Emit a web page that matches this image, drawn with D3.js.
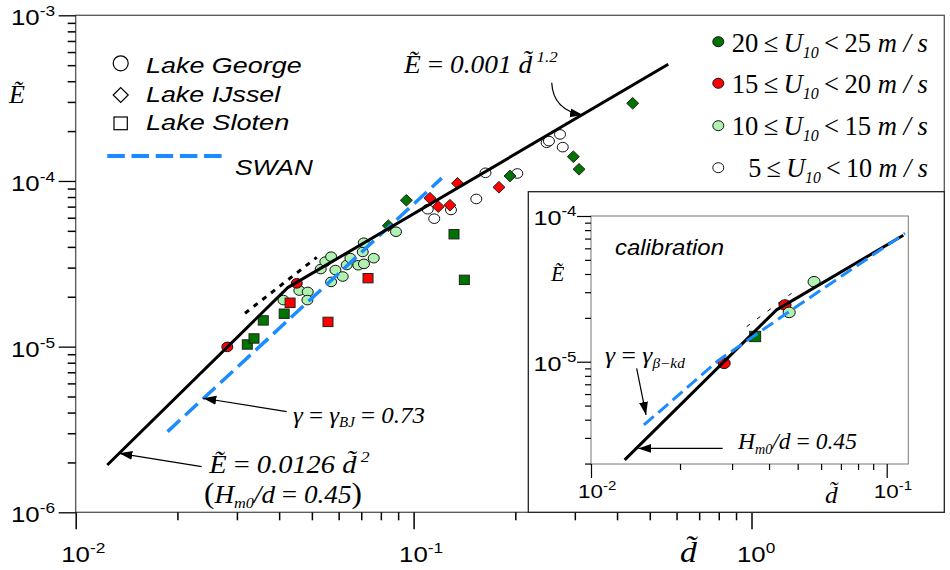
<!DOCTYPE html>
<html><head><meta charset="utf-8">
<script src="https://cdn.jsdelivr.net/npm/d3@7"></script>
<style>body{margin:0;background:#fff}svg{display:block}text{white-space:pre}</style>
</head><body>
<svg id="chart" width="950" height="570"></svg>
<script>
// ---------------- DATA ----------------
// Lake George (circles)
const georgeD = [0.0412,0.0459,0.0486,0.0485,0.0531,0.0548,0.0570,0.0587,0.0570,0.0617,0.0634,0.0650,0.0686,0.0713,0.0707,0.0712,0.0762,0.0887,
                 0.1101,0.1151,0.1290,0.1533,0.1632,0.2027,0.2476,0.2515,0.2712,0.2763,
                 0.0281,0.0451];
const georgeE = [1.91e-5,2.18e-5,2.14e-5,1.91e-5,2.94e-5,3.26e-5,3.49e-5,2.90e-5,2.46e-5,2.65e-5,3.11e-5,3.42e-5,3.10e-5,3.16e-5,3.73e-5,4.24e-5,3.42e-5,4.94e-5,
                 6.75e-5,5.92e-5,6.68e-5,7.79e-5,1.12e-4,1.11e-4,1.70e-4,1.74e-4,1.91e-4,1.60e-4,
                 9.96e-6,2.41e-5];
const georgeU = ["10-15","10-15","10-15","10-15","10-15","10-15","10-15","10-15","10-15","10-15","10-15","10-15","10-15","10-15","10-15","10-15","10-15","10-15",
                 "5-10","5-10","5-10","5-10","5-10","5-10","5-10","5-10","5-10","5-10",
                 "15-20","15-20"];
// Lake IJssel (diamonds)
const ijsselD = [0.0952,0.0842,0.1929,0.2970,0.3087,0.4450, 0.1118,0.1183,0.1281,0.1349,0.1789];
const ijsselE = [7.65e-5,5.37e-5,1.072e-4,1.401e-4,1.176e-4,2.944e-4, 7.87e-5,7.00e-5,7.14e-5,9.68e-5,9.16e-5];
const ijsselU = ["20-25","20-25","20-25","20-25","20-25","20-25","15-20","15-20","15-20","15-20","15-20"];
// Lake Sloten (squares)
const slotenD = [0.0322,0.0337,0.0359,0.0414,0.1317,0.1413, 0.0431,0.0558,0.0733];
const slotenE = [1.03e-5,1.12e-5,1.44e-5,1.58e-5,4.77e-5,2.53e-5, 1.84e-5,1.41e-5,2.59e-5];
const slotenU = ["20-25","20-25","20-25","20-25","20-25","20-25","15-20","15-20","15-20"];

// Lines (main)
const fitD = [0.0124, 0.0424, 0.567];
const fitE = [1.93e-6, 2.27e-5, 5.06e-4];
const dottedD = [0.0317, 0.0517];
const dottedE = [1.59e-5, 3.46e-5];
const swanD = [0.0187, 0.1211];
const swanE = [3.07e-6, 1.04e-4];

// Inset (calibration)
const calD = [0.0282, 0.0359, 0.0453, 0.0468, 0.0568];
const calE = [9.75e-6, 1.49e-5, 2.45e-5, 2.18e-5, 3.54e-5];
const calShape = ["circle","square","circle","circle","circle"];
const calU = ["15-20","20-25","15-20","10-15","10-15"];
const calFitD = [0.0130, 0.0424, 0.1138];
const calFitE = [2.12e-6, 2.27e-5, 7.37e-5];
const calSwanD = [0.0151, 0.0269, 0.0459, 0.1153];
const calSwanE = [3.68e-6, 1.016e-5, 2.15e-5, 7.61e-5];
const calDottedD = [0.0336, 0.0477];
const calDottedE = [1.74e-5, 2.95e-5];

// Ticks
const xMajor = [0.01, 0.1, 1];
const xMajorExp = ["-2", "-1", "0"];
const xMinor = [0.02,0.03,0.04,0.05,0.06,0.07,0.08,0.09,0.2,0.3,0.4,0.5,0.6,0.7,0.8,0.9];
const yMajor = [1e-6, 1e-5, 1e-4, 1e-3];
const yMajorExp = ["-6", "-5", "-4", "-3"];
const yMinor = [2,3,4,5,6,7,8,9].flatMap(m => [m*1e-6, m*1e-5, m*1e-4]);
const ixMajor = [0.01, 0.1];
const ixMajorExp = ["-2", "-1"];
const ixMinor = [0.02,0.03,0.04,0.05,0.06,0.07,0.08,0.09];
const iyMajor = [1e-5, 1e-4];
const iyMajorExp = ["-5", "-4"];
const iyMinor = [2,3,4,5,6,7,8,9].flatMap(m => [m*1e-6, m*1e-5]);

// Legends
const lakeNames = ["Lake George", "Lake IJssel", "Lake Sloten"];
const lakeShapes = ["circle", "diamond", "square"];
const windClasses = ["20-25", "15-20", "10-15", "5-10"];
const windLo = ["20", "15", "10", "5"];
const windHi = ["25", "20", "15", "10"];

// ---------------- STYLE ----------------
const SANS = "'Liberation Sans', Arial, sans-serif";
const SERIF = "'Liberation Serif', 'Times New Roman', serif";
const windColor = {"20-25":"#007400","15-20":"#ff0000","10-15":"#b0f0b0","5-10":"#ffffff"};
const BLUE = "#1a8cff";

const svg = d3.select("#chart");
const defs = svg.append("defs");
defs.append("marker").attr("id","arr").attr("markerUnits","userSpaceOnUse")
  .attr("markerWidth",14).attr("markerHeight",10).attr("refX",13).attr("refY",5).attr("orient","auto")
  .append("path").attr("d","M0,0.5 L13,5 L0,9.5 Z").attr("fill","#000");

function rich(parent, parts, o) {
  const g = parent.append("g");
  const t = g.append("text").attr("font-family", o.family).attr("font-size", o.size).attr("fill", "#000");
  let cur = 0;
  for (const p of parts) {
    const s = t.append("tspan").text(p.t);
    const dy = p.dy || 0;
    if (dy !== cur) { s.attr("dy", dy - cur); cur = dy; }
    if (p.s) s.attr("font-size", o.size * p.s);
    s.attr("font-style", p.it ? "italic" : "normal");
  }
  const bb = t.node().getBBox();
  const sx = o.w ? o.w / bb.width : (o.sx || 1);
  let left = o.x;
  if (o.anchor === "end") left = o.x - bb.width * sx;
  else if (o.anchor === "middle") left = o.x - bb.width * sx / 2;
  g.attr("transform", `translate(${left - bb.x * sx},${o.y}) scale(${sx},1)`);
  return g;
}

function marker(sel, shape, cx, cy, size, fill) {
  if (shape === "circle") {
    sel.append("ellipse").attr("cx", cx).attr("cy", cy).attr("rx", size * 0.55).attr("ry", size * 0.48)
      .attr("fill", fill).attr("stroke", "#111").attr("stroke-width", 1);
  } else if (shape === "square") {
    sel.append("rect").attr("x", cx - size * 0.5).attr("y", cy - size * 0.47).attr("width", size).attr("height", size * 0.94)
      .attr("fill", fill).attr("stroke", "#222").attr("stroke-width", 1);
  } else {
    const h = size * 0.6, v = size * 0.58;
    sel.append("path").attr("d", `M${cx - h},${cy} L${cx},${cy - v} L${cx + h},${cy} L${cx},${cy + v} Z`)
      .attr("fill", fill).attr("stroke", "#222").attr("stroke-width", 1);
  }
}

// ---------------- MAIN PLOT ----------------
const x = d3.scaleLog().domain([0.01, 3.72]).range([75.7, 944.3]);
const y = d3.scaleLog().domain([1e-6, 1e-3]).range([512.3, 15.3]);

const main = svg.append("g");
main.append("rect").attr("x", 75.7).attr("y", 15.3).attr("width", 944.3 - 75.7).attr("height", 512.3 - 15.3)
  .attr("fill", "#fff").attr("stroke", "#555").attr("stroke-width", 1.3);

function styleAxis(g, w) {
  g.select(".domain").remove();
  g.selectAll(".tick line").attr("stroke", "#000").attr("stroke-width", w);
  g.selectAll(".tick text").remove();
}
main.append("g").attr("transform", "translate(0,512.3)")
  .call(d3.axisBottom(x).tickValues(xMajor).tickSize(17).tickFormat(""))
  .call(g => styleAxis(g, 1.5));
main.append("g").attr("transform", "translate(0,512.3)")
  .call(d3.axisBottom(x).tickValues(xMinor).tickSize(8).tickFormat(""))
  .call(g => styleAxis(g, 1.5));
main.append("g").attr("transform", "translate(75.7,0)")
  .call(d3.axisLeft(y).tickValues(yMajor).tickSize(17).tickFormat(""))
  .call(g => styleAxis(g, 1.3));
main.append("g").attr("transform", "translate(75.7,0)")
  .call(d3.axisLeft(y).tickValues(yMinor).tickSize(8).tickFormat(""))
  .call(g => styleAxis(g, 1.5));

xMajor.forEach((v, i) => {
  rich(main, [{t:"10"}, {t:xMajorExp[i], s:0.67, dy:-9}], {x: x(v) - 14.5, y: 561.7, size: 21.5, family: SANS, sx: 1.2});
});
yMajor.forEach((v, i) => {
  rich(main, [{t:"10"}, {t:yMajorExp[i], s:0.67, dy:-9}], {x: 55, y: y(v) + 10, size: 21.5, family: SANS, sx: 1.2, anchor: "end"});
});

// axis titles
rich(main, [{t:"\u1EBC", it:true}], {x: 8, y: 103, size: 26, family: SERIF, w: 17});
rich(main, [{t:"d\u0303", it:true}], {x: 680, y: 561.7, size: 30, family: SERIF, w: 18});

// data markers
const pts = main.append("g");
georgeD.forEach((d, i) => marker(pts, "circle", x(d), y(georgeE[i]), 10, windColor[georgeU[i]]));
ijsselD.forEach((d, i) => marker(pts, "diamond", x(d), y(ijsselE[i]), 10, windColor[ijsselU[i]]));
slotenD.forEach((d, i) => marker(pts, "square", x(d), y(slotenE[i]), 10, windColor[slotenU[i]]));

// lines
const line = d3.line().x(p => x(p[0])).y(p => y(p[1]));
main.append("path").attr("d", line(dottedD.map((d, i) => [d, dottedE[i]])))
  .attr("fill", "none").attr("stroke", "#000").attr("stroke-width", 3).attr("stroke-dasharray", "5,6");
main.append("path").attr("d", line(swanD.map((d, i) => [d, swanE[i]])))
  .attr("fill", "none").attr("stroke", BLUE).attr("stroke-width", 3.5).attr("stroke-dasharray", "17,7");
main.append("path").attr("d", line(fitD.map((d, i) => [d, fitE[i]])))
  .attr("fill", "none").attr("stroke", "#000").attr("stroke-width", 3).attr("stroke-linejoin", "round");

// annotations
const curveArrow = [[0.2563, 3.92e-4], [0.2585, 2.68e-4], [0.3171, 2.50e-4]];
main.append("path")
  .attr("d", `M${x(curveArrow[0][0])},${y(curveArrow[0][1])} Q${x(curveArrow[1][0])},${y(curveArrow[1][1])} ${x(curveArrow[2][0])},${y(curveArrow[2][1])}`)
  .attr("fill", "none").attr("stroke", "#000").attr("stroke-width", 1.2).attr("marker-end", "url(#arr)");
const arrowsMain = [
  [[0.04211, 4.05e-6], [0.02385, 4.88e-6]],
  [[0.0236, 1.887e-6], [0.01346, 2.27e-6]]
];
arrowsMain.forEach(a => main.append("line")
  .attr("x1", x(a[0][0])).attr("y1", y(a[0][1])).attr("x2", x(a[1][0])).attr("y2", y(a[1][1]))
  .attr("stroke", "#000").attr("stroke-width", 1.2).attr("marker-end", "url(#arr)"));

rich(main, [{t:"\u1EBC", it:true}, {t:" = "}, {t:"0.001 ", it:true}, {t:"d\u0303", it:true}, {t:" 1.2", it:true, s:0.62, dy:-11}],
  {x: 403, y: 72.7, size: 25, family: SERIF, w: 155});
rich(main, [{t:"\u03B3", it:true}, {t:" = "}, {t:"\u03B3", it:true}, {t:"BJ", it:true, s:0.6, dy:4}, {t:" = "}, {t:"0.73", it:true}],
  {x: 293, y: 423.3, size: 24, family: SERIF, w: 132});
rich(main, [{t:"\u1EBC", it:true}, {t:" = "}, {t:"0.0126 ", it:true}, {t:"d\u0303", it:true}, {t:" 2", it:true, s:0.62, dy:-11}],
  {x: 208, y: 473, size: 25, family: SERIF, w: 162});
rich(main, [{t:"(", s:1.15}, {t:"H", it:true}, {t:"m0", it:true, s:0.6, dy:5}, {t:"/d", it:true}, {t:" = "}, {t:"0.45", it:true}, {t:")", s:1.15}],
  {x: 204, y: 503, size: 25, family: SERIF, w: 158});

// lake legend
const lg = main.append("g");
const lakeY = [63.3, 95, 123.3];
const lakeTextY = [72.7, 101.7, 130];
const lakeTextW = [155.7, 135.7, 143.3];
lakeNames.forEach((n, i) => {
  if (lakeShapes[i] === "circle") lg.append("circle").attr("cx", 120.7).attr("cy", lakeY[i]).attr("r", 7.5).attr("fill", "#fff").attr("stroke", "#000").attr("stroke-width", 1.2);
  else if (lakeShapes[i] === "diamond") lg.append("path").attr("d", `M${120.7-7.5},${lakeY[i]} L120.7,${lakeY[i]-7.5} L${120.7+7.5},${lakeY[i]} L120.7,${lakeY[i]+7.5} Z`).attr("fill", "#fff").attr("stroke", "#000").attr("stroke-width", 1.2);
  else lg.append("rect").attr("x", 114).attr("y", lakeY[i] - 6.3).attr("width", 13.3).attr("height", 12.7).attr("fill", "#fff").attr("stroke", "#000").attr("stroke-width", 1.2);
  rich(lg, [{t:n, it:true}], {x: 146, y: lakeTextY[i], size: 22, family: SANS, w: lakeTextW[i]});
});
lg.append("line").attr("x1", 107.3).attr("x2", 222.7).attr("y1", 156).attr("y2", 156)
  .attr("stroke", BLUE).attr("stroke-width", 4).attr("stroke-dasharray", "17.5,6.7");
rich(lg, [{t:"SWAN", it:true}], {x: 235, y: 175, size: 22, family: SANS, w: 78});

// wind legend
const wl = main.append("g");
const windMarkY = [41.7, 83.3, 125.7, 167.7];
const windTextY = [51.7, 93.3, 135, 176.7];
windClasses.forEach((c, i) => {
  wl.append("ellipse").attr("cx", 718.3).attr("cy", windMarkY[i]).attr("rx", 5.5).attr("ry", 5)
    .attr("fill", windColor[c]).attr("stroke", "#111").attr("stroke-width", 1);
  const left = i === 3 ? 748.3 : 731.7;
  rich(wl, [{t:windLo[i] + "\u2009"}, {t:"\u2264\u2009"}, {t:"U", it:true}, {t:"10", it:true, s:0.6, dy:6}, {t:"\u2009<\u2009"}, {t:windHi[i] + " "}, {t:"m / s", it:true}],
    {x: left, y: windTextY[i], size: 27, family: SERIF, w: 928 - left});
});

// ---------------- INSET ----------------
const inset = svg.append("g");
inset.append("rect").attr("x", 528.3).attr("y", 191.7).attr("width", 944.3 - 528.3).attr("height", 512.3 - 191.7)
  .attr("fill", "#fff").attr("stroke", "#222").attr("stroke-width", 1.3);
const xi = d3.scaleLog().domain([0.01, 0.1183]).range([591, 908.3]);
const yi = d3.scaleLog().domain([1.986e-6, 1e-4]).range([464, 216]);
inset.append("rect").attr("x", 591).attr("y", 216).attr("width", 908.3 - 591).attr("height", 464 - 216)
  .attr("fill", "#fff").attr("stroke", "#777").attr("stroke-width", 1);

inset.append("g").attr("transform", "translate(0,464)")
  .call(d3.axisBottom(xi).tickValues(ixMajor).tickSize(14).tickFormat("")).call(g => styleAxis(g, 1.2));
inset.append("g").attr("transform", "translate(0,464)")
  .call(d3.axisBottom(xi).tickValues(ixMinor).tickSize(6).tickFormat("")).call(g => styleAxis(g, 1.2));
inset.append("g").attr("transform", "translate(591,0)")
  .call(d3.axisLeft(yi).tickValues(iyMajor).tickSize(14).tickFormat("")).call(g => styleAxis(g, 1.2));
inset.append("g").attr("transform", "translate(591,0)")
  .call(d3.axisLeft(yi).tickValues(iyMinor).tickSize(6).tickFormat("")).call(g => styleAxis(g, 1.2));

ixMajor.forEach((v, i) => {
  rich(inset, [{t:"10"}, {t:ixMajorExp[i], s:0.67, dy:-8}], {x: xi(v) - 13, y: 498, size: 19, family: SANS, sx: 1.18});
});
iyMajor.forEach((v, i) => {
  rich(inset, [{t:"10"}, {t:iyMajorExp[i], s:0.67, dy:-9}], {x: 576.7, y: yi(v) + 9, size: 21, family: SANS, sx: 1.2, anchor: "end"});
});
rich(inset, [{t:"\u1EBC", it:true}], {x: 550, y: 280.7, size: 22, family: SERIF, w: 15});
rich(inset, [{t:"d\u0303", it:true}], {x: 825, y: 503, size: 24, family: SERIF, w: 14});
rich(inset, [{t:"calibration", it:true}], {x: 615, y: 255, size: 22, family: SANS, w: 109});

const ipts = inset.append("g");
calD.forEach((d, i) => marker(ipts, calShape[i], xi(d), yi(calE[i]), 11, windColor[calU[i]]));

const iline = d3.line().x(p => xi(p[0])).y(p => yi(p[1]));
inset.append("path").attr("d", iline(calDottedD.map((d, i) => [d, calDottedE[i]])))
  .attr("fill", "none").attr("stroke", "#000").attr("stroke-width", 1).attr("stroke-dasharray", "4,9");
inset.append("path").attr("d", iline(calFitD.map((d, i) => [d, calFitE[i]])))
  .attr("fill", "none").attr("stroke", "#000").attr("stroke-width", 3).attr("stroke-linejoin", "round");
inset.append("path").attr("d", iline(calSwanD.map((d, i) => [d, calSwanE[i]])))
  .attr("fill", "none").attr("stroke", BLUE).attr("stroke-width", 3).attr("stroke-dasharray", "13,6");

const arrowsInset = [
  [[0.01427, 9.01e-6], [0.01535, 4.31e-6]],
  [[0.02789, 2.54e-6], [0.01446, 2.54e-6]]
];
arrowsInset.forEach(a => inset.append("line")
  .attr("x1", xi(a[0][0])).attr("y1", yi(a[0][1])).attr("x2", xi(a[1][0])).attr("y2", yi(a[1][1]))
  .attr("stroke", "#000").attr("stroke-width", 1.2).attr("marker-end", "url(#arr)"));

rich(inset, [{t:"\u03B3", it:true}, {t:" = "}, {t:"\u03B3", it:true}, {t:"\u03B2\u2212kd", it:true, s:0.6, dy:5}],
  {x: 605, y: 363.3, size: 23, family: SERIF, w: 80});
rich(inset, [{t:"H", it:true}, {t:"m0", it:true, s:0.6, dy:5}, {t:"/d", it:true}, {t:" = "}, {t:"0.45", it:true}],
  {x: 737, y: 449.3, size: 23, family: SERIF, w: 120});
</script>
</body></html>
